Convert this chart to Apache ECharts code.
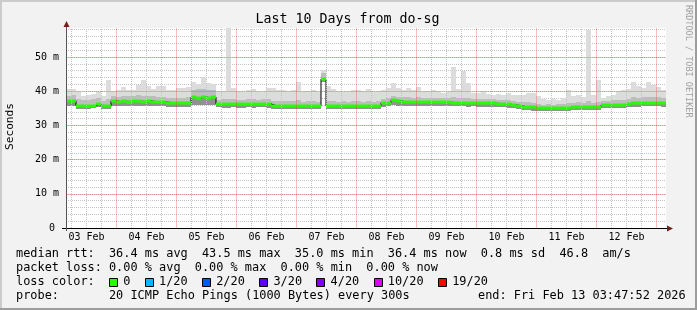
<!DOCTYPE html>
<html><head><meta charset="utf-8">
<script src="https://cdn.jsdelivr.net/npm/echarts@6/dist/echarts.min.js"></script>
<style>html,body{margin:0;padding:0;background:#f2f2f2}#c{width:697px;height:310px}</style>
</head><body><div id="c"></div>
<script>
// time axis in hours since 03 Feb 00:00
const START_H = 3 + 47/60 + 52/3600;   // Tue Feb 03 03:47:52
const END_H = START_H + 240;           // Fri Feb 13 03:47:52
const STEP_H = 2;                      // one sample per 2 hours

const DAY_LABELS = ['03 Feb','04 Feb','05 Feb','06 Feb','07 Feb','08 Feb','09 Feb','10 Feb','11 Feb','12 Feb'];
const DAY_NOON_H = [12,36,60,84,108,132,156,180,204,228];
const DAY_START_H = [24,48,72,96,120,144,168,192,216,240];
const QUARTER_H = [6,12,18,30,36,42,54,60,66,78,84,90,102,108,114,126,132,138,150,156,162,174,180,186,198,204,210,222,228,234];
const Y_MAJOR = [10,20,30,40,50];
const Y_TICK_LABELS = ['0','10 m','20 m','30 m','40 m','50 m'];

// median RTT (ms)
const MED = [
37.1,37.2,35.8,35.8,35.8,35.8,36.3,35.6,35.6,37.2,
37.0,37.1,37.0,37.2,37.1,37.0,37.2,37.0,36.9,36.9,
36.7,36.6,36.6,36.7,36.6,38.2,38.0,38.3,38.1,38.3,
36.3,36.3,36.3,36.4,36.3,36.3,36.3,36.3,36.4,36.4,
36.3,35.8,35.7,35.8,35.7,35.7,35.7,35.6,35.7,35.7,
35.7,43.6,35.7,35.7,35.8,35.7,35.7,35.7,35.8,35.7,
35.7,35.8,35.8,36.6,36.7,37.4,37.2,36.9,36.9,36.8,
36.9,36.9,36.9,36.8,36.9,36.8,36.8,36.7,36.7,36.7,
36.6,36.7,36.5,36.5,36.5,36.5,36.4,36.4,36.2,36.0,
35.8,35.5,35.5,35.3,35.1,35.0,35.1,35.0,35.1,35.1,
35.2,35.5,35.5,35.5,35.4,35.5,35.4,36.0,36.0,36.0,
36.1,36.1,36.4,36.5,36.5,36.7,36.6,36.7,36.7,36.5];
// smoke: lowest ping
const LO = [
35.6,35.8,34.8,34.9,34.9,35.0,35.3,34.8,34.8,35.8,
35.7,35.8,35.7,35.8,35.8,35.7,35.8,35.7,35.6,35.6,
35.5,35.4,35.4,35.5,35.4,36.0,35.9,36.0,35.9,36.0,
35.3,35.2,35.2,35.3,35.2,35.2,35.3,35.2,35.3,35.3,
35.2,34.8,34.8,34.9,34.8,34.8,34.8,34.7,34.8,34.8,
34.8,42.8,34.8,34.8,34.9,34.8,34.8,34.8,34.9,34.8,
34.8,34.9,34.9,35.5,35.6,36.0,35.8,35.7,35.7,35.6,
35.7,35.7,35.7,35.6,35.7,35.6,35.6,35.6,35.6,35.6,
35.5,35.6,35.5,35.5,35.5,35.5,35.4,35.4,35.2,35.0,
34.8,34.5,34.5,34.3,34.2,34.1,34.2,34.1,34.2,34.2,
34.3,34.5,34.5,34.5,34.4,34.5,34.4,35.0,35.0,35.0,
35.1,35.1,35.4,35.5,35.5,35.6,35.6,35.6,35.6,35.5];
// smoke: upper dense band
const HI = [
38.6,38.8,37.8,37.3,37.4,37.6,37.9,37.2,37.6,38.6,
38.4,38.6,38.5,38.6,38.8,38.7,38.6,38.5,38.4,38.4,
38.0,37.9,38.1,38.0,38.2,40.4,40.6,40.8,40.5,40.4,
37.5,37.6,37.8,37.6,37.5,37.4,37.6,37.6,37.5,37.6,
37.6,37.2,37.1,37.2,37.1,37.2,37.3,37.0,37.1,37.2,
37.0,45.2,37.2,37.1,37.0,37.1,37.0,37.2,37.1,37.0,
37.1,37.0,37.1,37.8,38.0,38.6,38.4,38.2,38.3,38.1,
38.2,38.0,38.0,38.1,38.0,37.9,37.9,38.2,37.9,38.1,
38.0,37.8,37.7,37.8,37.6,37.6,37.5,37.5,37.4,37.2,
37.0,36.8,36.8,36.6,36.3,36.1,36.2,36.1,36.2,36.3,
36.6,36.7,36.8,36.7,37.2,36.7,36.8,37.2,37.2,37.3,
37.4,37.5,37.8,38.2,38.0,38.2,38.3,38.2,38.2,38.0];
// smoke: highest ping
const MX = [
40.8,40.6,40.0,38.6,38.8,39.2,39.9,38.5,43.3,40.2,
40.3,41.2,40.5,40.4,41.8,43.2,41.5,40.8,41.6,41.6,
40.5,40.4,41.0,40.9,41.1,42.8,42.2,44.2,42.3,42.0,
40.0,40.2,58.4,41.0,40.0,39.8,40.3,40.8,40.0,39.8,
41.0,41.0,40.5,40.3,40.0,40.4,42.8,40.2,40.0,40.3,
39.8,46.2,41.5,40.6,40.0,39.8,40.2,40.4,40.5,40.2,
40.6,39.8,40.0,40.4,41.0,42.3,41.0,40.5,41.0,40.4,
41.3,40.0,40.0,40.4,40.2,39.6,39.8,47.2,40.8,45.8,
42.5,39.6,39.5,40.2,39.2,39.0,39.3,39.0,39.5,39.0,
38.8,39.0,39.4,39.4,38.5,37.8,37.5,37.6,37.4,38.0,
40.4,38.6,38.8,38.4,57.9,38.8,43.3,38.0,38.6,39.0,
40.2,40.4,40.6,42.8,41.6,41.0,42.6,41.8,41.2,40.4];

const FONT = '"DejaVu Sans Mono", monospace';
const GRID_GRAY = '#c4c4c4';
const GRID_RED = 'rgba(240,60,60,0.32)';
const smokeData = MED.map((m, i) => [START_H + STEP_H*i, START_H + STEP_H*(i+1), LO[i], m, HI[i], MX[i]]);
const lineData = MED.map((m, i) => [START_H + STEP_H*i, m]).concat([[END_H, MED[MED.length-1]]]);

const chart = echarts.init(document.getElementById('c'), null, {renderer:'canvas', width:697, height:310});

const CW = 7.15;            // legend character cell width
const col = c => 16 + c*CW;
function txt(x, y, s) {
  return {type:'text', x:x, y:y, z:100,
    style:{text:s, font:'11.9px ' + FONT, fill:'#000', textAlign:'left', textVerticalAlign:'middle'}};
}
const LOSS_COLORS = ['#26ff00','#00b8ff','#0059ff','#5e00ff','#7e00ff','#dd00ff','#ff0000'];
const LOSS_LABELS = ['0','1/20','2/20','3/20','4/20','10/20','19/20'];
const boxCol = [13,18,26,34,42,50,59];
const labCol = [15,20,28,36,44,52,61];

const graphics = [
  {type:'rect', z:100, shape:{x:0,y:0,width:697,height:2}, style:{fill:'#cbcbcb'}},
  {type:'rect', z:100, shape:{x:0,y:0,width:2,height:310}, style:{fill:'#cbcbcb'}},
  {type:'rect', z:100, shape:{x:0,y:308,width:697,height:2}, style:{fill:'#9c9c9c'}},
  {type:'rect', z:100, shape:{x:695,y:0,width:2,height:310}, style:{fill:'#9c9c9c'}},
  {type:'line', z:100, shape:{x1:62,y1:228.5,x2:668,y2:228.5}, style:{stroke:'#000',lineWidth:1}},
  {type:'line', z:100, shape:{x1:66.5,y1:231,x2:66.5,y2:25}, style:{stroke:'#555',lineWidth:1}},
  {type:'polygon', z:101, shape:{points:[[63.5,27],[69.5,27],[66.5,21]]}, style:{fill:'#7a1c1c'}},
  {type:'polygon', z:101, shape:{points:[[667,225.5],[667,231.5],[673,228.5]]}, style:{fill:'#7a1c1c'}},
  {type:'text', x:347.5, y:20, z:100, style:{text:'Last 10 Days from do-sg', font:'13.3px ' + FONT, fill:'#000', textAlign:'center', textVerticalAlign:'middle'}},
  {type:'text', x:10, y:126.5, z:100, rotation:Math.PI/2, style:{text:'Seconds', font:'11.1px ' + FONT, fill:'#000', textAlign:'center', textVerticalAlign:'middle'}},
  {type:'text', x:688, y:5, z:100, rotation:-Math.PI/2, style:{text:'RRDTOOL / TOBI OETIKER', font:'8.5px ' + FONT, fill:'#a0a0a0', textAlign:'left', textVerticalAlign:'middle'}},
  txt(col(0), 254, 'median rtt:'),
  txt(col(13), 254, '36.4 ms avg'),
  txt(col(26), 254, '43.5 ms max'),
  txt(col(39), 254, '35.0 ms min'),
  txt(col(52), 254, '36.4 ms now'),
  txt(col(65), 254, '0.8 ms sd'),
  txt(col(76), 254, '46.8'),
  txt(col(82), 254, 'am/s'),
  txt(col(0), 267.7, 'packet loss:'),
  txt(col(13), 267.7, '0.00 % avg'),
  txt(col(25), 267.7, '0.00 % max'),
  txt(col(37), 267.7, '0.00 % min'),
  txt(col(49), 267.7, '0.00 % now'),
  txt(col(0), 281.5, 'loss color:'),
  txt(col(0), 295.5, 'probe:'),
  txt(col(13), 295.5, '20 ICMP Echo Pings (1000 Bytes) every 300s'),
  txt(478, 295.5, 'end: Fri Feb 13 03:47:52 2026')
];
LOSS_LABELS.forEach((l, i) => {
  graphics.push({type:'rect', z:100, shape:{x:Math.round(col(boxCol[i]))+0.5, y:278.5, width:8, height:8}, style:{fill:LOSS_COLORS[i], stroke:'#000', lineWidth:1}});
  graphics.push(txt(col(labCol[i]), 281.5, l));
});

function vMarks(list) { return list.map(h => ({xAxis:h})); }
function hMarks(list) { return list.map(v => ({yAxis:v})); }
const markBase = {silent:true, symbol:['none','none'], label:{show:false}, animation:false};

chart.setOption({
  animation:false,
  backgroundColor:'#f2f2f2',
  grid:{left:66, top:28, width:600, height:200, show:true, backgroundColor:'#ffffff', borderWidth:0},
  xAxis:{type:'value', min:START_H, max:END_H,
    axisLine:{show:false}, axisTick:{show:false}, splitLine:{show:false},
    axisLabel:{customValues:DAY_NOON_H, hideOverlap:false,
      formatter:v => { const k = DAY_NOON_H.indexOf(v); return k >= 0 ? DAY_LABELS[k] : ''; },
      fontFamily:FONT, fontSize:10, color:'#000', margin:4}},
  yAxis:{type:'value', min:0, max:58.5, interval:2, axisLine:{show:false}, axisTick:{show:false},
    axisLabel:{showMaxLabel:false, margin:7, fontFamily:FONT, fontSize:10, color:'#000',
      formatter:v => { if (v % 10 !== 0) return ''; const s = Y_TICK_LABELS[v/10] || ''; return v === 0 ? '{z|' + s + '}' : s; },
      rich:{z:{fontFamily:FONT, fontSize:10, color:'#000', padding:[0,4,0,0]}}},
    splitLine:{show:true, showMinLine:false, showMaxLine:false,
      lineStyle:{color:GRID_GRAY, type:'dotted', width:1}}},
  series:[
    {type:'line', name:'vgrid-minor', z:1, data:[[START_H, 0]], showSymbol:false, lineStyle:{opacity:0}, silent:true,
     markLine:Object.assign({lineStyle:{color:GRID_GRAY, type:'dotted', width:1}, data:vMarks(QUARTER_H)}, markBase)},
    {type:'line', name:'grid-major', z:1, data:[[START_H, 0]], showSymbol:false, lineStyle:{opacity:0}, silent:true,
     markLine:Object.assign({lineStyle:{color:GRID_RED, type:'solid', width:1},
       data:vMarks(DAY_START_H).concat(hMarks(Y_MAJOR))}, markBase)},
    {type:'custom', name:'smoke', z:2, data:smokeData, encode:{x:[0,1], y:[2,3,4,5]},
     renderItem:(params, api) => {
       const x0 = Math.round(api.coord([api.value(0), 0])[0]);
       const x1 = Math.round(api.coord([api.value(1), 0])[0]);
       const yLo = Math.round(api.coord([START_H, api.value(2)])[1]);
       const yMed = Math.round(api.coord([START_H, api.value(3)])[1]);
       const yHi = Math.round(api.coord([START_H, api.value(4)])[1]);
       const yMx = Math.round(api.coord([START_H, api.value(5)])[1]);
       return {type:'group', children:[
         {type:'rect', shape:{x:x0, y:yMx, width:x1-x0, height:yHi-yMx}, style:{fill:'#dcdcdc'}},
         {type:'rect', shape:{x:x0, y:yHi, width:x1-x0, height:yMed-yHi}, style:{fill:'#bdbdbd'}},
         {type:'rect', shape:{x:x0, y:yMed, width:x1-x0, height:yLo-yMed}, style:{fill:'#919191'}}
       ]};
     }},
    {type:'line', name:'median', z:3, step:'end', data:lineData, showSymbol:false,
     lineStyle:{color:'#000', width:1}},
    {type:'custom', name:'loss0', z:4, data:smokeData, encode:{x:[0,1], y:[3]},
     renderItem:(params, api) => {
       const x0 = Math.round(api.coord([api.value(0), 0])[0]);
       const x1 = Math.round(api.coord([api.value(1), 0])[0]);
       const yMed = Math.round(api.coord([START_H, api.value(3)])[1]);
       return {type:'rect', shape:{x:x0, y:yMed-1.5, width:x1-x0, height:3}, style:{fill:'#26ff00'}};
     }}
  ],
  graphic:graphics
});
</script>
</body></html>
